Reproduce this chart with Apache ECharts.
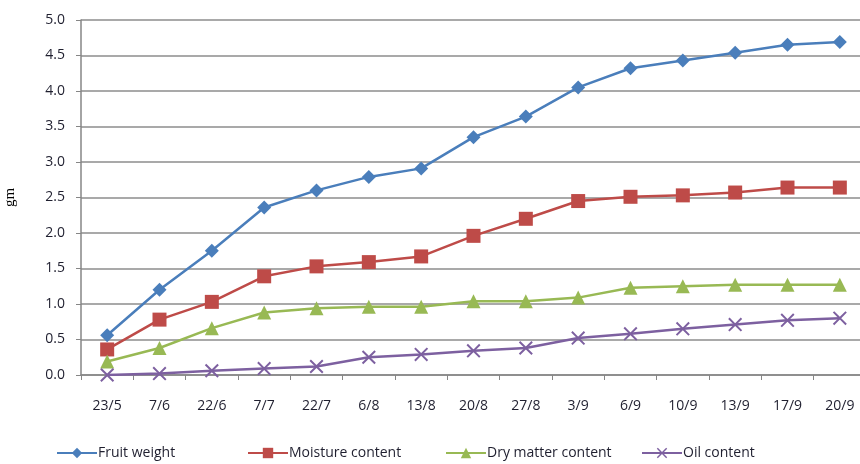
<!DOCTYPE html>
<html lang="en">
<head>
  <meta charset="UTF-8">
  <title>fruit-growth</title>
  <script type="text/javascript" src="https://cdn.jsdelivr.net/npm/echarts@6/dist/echarts.min.js"></script>
  <style>body{margin:0;background:#fff}</style>
</head>
<body>
  <div id="chart" style="width: 860px; height: 464px;"></div>
  <script type="text/javascript">
    var dates = ['23/5', '7/6', '22/6', '7/7', '22/7', '6/8', '13/8', '20/8', '27/8', '3/9', '6/9', '10/9', '13/9', '17/9', '20/9'];
    var fruitWeight = [0.56, 1.2, 1.75, 2.36, 2.6, 2.79, 2.91, 3.35, 3.64, 4.05, 4.32, 4.43, 4.54, 4.65, 4.69];
    var moisture = [0.36, 0.78, 1.03, 1.39, 1.53, 1.59, 1.67, 1.96, 2.2, 2.45, 2.51, 2.53, 2.57, 2.64, 2.64];
    var dryMatter = [0.19, 0.38, 0.66, 0.88, 0.94, 0.96, 0.96, 1.04, 1.04, 1.09, 1.23, 1.25, 1.27, 1.27, 1.27];
    var oil = [0.0, 0.02, 0.06, 0.09, 0.12, 0.25, 0.29, 0.34, 0.38, 0.52, 0.58, 0.65, 0.71, 0.77, 0.8];

    var font = 'Open Sans';
    var txt = '#1f1f2f';
    // X marker drawn as a filled cross
    var cross = 'path://M0,1L1,0L5,4L9,0L10,1L6,5L10,9L9,10L5,6L1,10L0,9L4,5Z';

    function line(name, data, color, symbol, size) {
      return {
        name: name, type: 'line', data: data,
        symbol: symbol, symbolSize: size,
        lineStyle: { color: color, width: 2.5 },
        itemStyle: { color: color },
        animation: false
      };
    }

    function legend(name, left) {
      return {
        data: [name], left: left, top: 441,
        itemWidth: 40, itemHeight: 13, itemGap: 2,
        textStyle: { fontFamily: font, fontSize: 14, color: txt, padding: [0, 0, 0, -4] }
      };
    }

    var option = {
      backgroundColor: '#fff',
      grid: { left: 81, top: 20, width: 785, height: 355, outerBoundsMode: 'none' },
      legend: [
        legend('Fruit weight', 51),
        legend('Moisture content', 242),
        legend('Dry matter content', 440),
        legend('Oil content', 636)
      ],
      xAxis: {
        type: 'category', data: dates, boundaryGap: true,
        axisLine: { lineStyle: { color: '#868686', width: 1.5 } },
        axisTick: { show: true, length: 5, lineStyle: { color: '#868686' } },
        axisLabel: { fontFamily: font, fontSize: 14, color: txt, margin: 24 }
      },
      yAxis: {
        type: 'value', min: 0, max: 5, interval: 0.5,
        name: 'gm', nameLocation: 'middle', nameGap: 63, nameRotate: 90,
        nameTextStyle: { fontFamily: 'Liberation Serif', fontSize: 15, color: '#000' },
        axisLine: { show: true, lineStyle: { color: '#868686', width: 1.5 } },
        axisTick: { show: true, length: 5, lineStyle: { color: '#868686' } },
        splitLine: { lineStyle: { color: '#8c8c8c', width: 1.5 } },
        axisLabel: { fontFamily: font, fontSize: 14, color: txt, margin: 16,
          formatter: function (v) { return v.toFixed(1); } }
      },
      series: [
        line('Fruit weight', fruitWeight, '#4a7ebb', 'diamond', 14),
        line('Moisture content', moisture, '#be4b48', 'rect', 14),
        line('Dry matter content', dryMatter, '#98b954', 'triangle', 14),
        line('Oil content', oil, '#7d60a0', cross, 14)
      ]
    };

    var myChart = echarts.init(document.getElementById('chart'));
    myChart.setOption(option);
  </script>
</body>
</html>
